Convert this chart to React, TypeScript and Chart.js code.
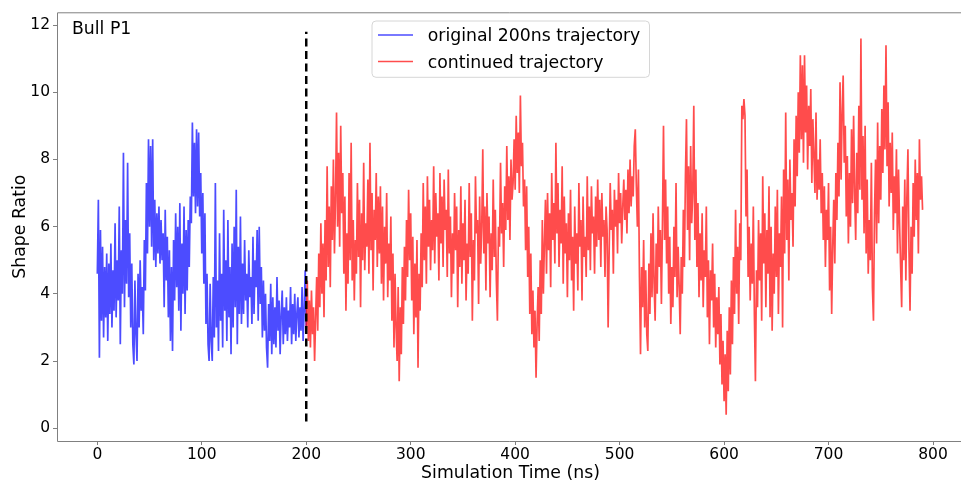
import React, { useEffect, useRef } from "react";
import { Chart, registerables } from "chart.js";

Chart.register(...registerables);

// ---------- data ----------
const blueStart = 0; // ns, one value per ns
const blueValues = [
  4.6, 6.8, 2.1, 5.9, 3.2, 5.4, 2.7, 4.8, 3.3, 5.2,
  2.6, 4.9, 3.4, 5.5, 3.0, 4.7, 3.5, 6.1, 3.3, 5.0,
  3.8, 6.6, 2.5, 5.3, 4.0, 8.2, 3.6, 6.2, 4.3, 7.9,
  3.9, 5.8, 3.0, 4.9, 2.5, 1.9, 4.4, 2.8, 2.0, 4.6,
  3.0, 5.0, 3.5, 4.2, 2.8, 5.6, 4.1, 7.3, 5.2, 8.6,
  6.0, 8.4, 5.4, 8.6, 5.0, 6.8, 4.8, 6.4, 5.2, 6.6,
  4.9, 6.2, 5.0, 5.8, 3.6, 6.5, 4.4, 5.7, 3.3, 5.3,
  2.6, 4.8, 2.3, 5.6, 3.8, 6.4, 4.2, 6.0, 3.5, 6.7,
  2.9, 5.5, 4.0, 6.6, 3.4, 5.9, 4.1, 6.2, 4.8, 6.9,
  6.1, 9.1, 6.9, 8.5, 6.4, 8.9, 6.6, 8.8, 6.3, 7.6,
  5.2, 7.0, 4.3, 6.4, 3.1, 4.6, 2.5, 2.0, 4.3, 2.6,
  2.0, 4.5, 2.7, 7.3, 3.0, 4.4, 2.3, 5.8, 3.2, 4.6,
  2.4, 6.5, 3.5, 5.0, 2.6, 6.2, 3.3, 4.8, 2.2, 5.5,
  3.0, 6.0, 3.6, 7.1, 2.5, 5.4, 3.4, 6.3, 3.1, 4.9,
  3.4, 5.6, 3.8, 4.6, 3.0, 5.3, 3.9, 4.5, 3.1, 5.7,
  3.4, 5.0, 4.2, 5.9, 3.2, 6.0, 3.7, 4.8, 2.7, 4.4,
  2.9, 4.0, 2.4, 1.8, 3.7, 2.6, 4.3, 2.2, 3.9, 2.5,
  3.6, 2.4, 4.5, 2.9, 3.8, 2.2, 3.4, 4.1, 2.5, 3.6,
  2.8, 3.9, 2.6, 3.5, 3.0, 4.2, 2.5, 3.7, 2.8, 4.0,
  2.6, 3.4, 3.9, 2.7, 3.6, 2.9, 4.2, 2.6, 3.5, 4.7,
  3.0,
];

const redStart = 200; // ns, one value per ns
const redValues = [
  3.0, 4.4, 2.6, 3.8, 2.4, 4.1, 2.8, 3.6, 2.0, 3.3,
  4.5, 2.9, 5.2, 3.6, 6.1, 4.0, 5.5, 3.3, 6.2, 4.4,
  7.8, 4.8, 6.6, 4.2, 7.2, 5.6, 8.0, 5.2, 6.8, 9.4,
  6.0, 8.2, 5.4, 9.0, 6.4, 7.6, 4.6, 6.9, 3.5, 5.8,
  4.3, 7.6, 5.0, 8.5, 4.4, 6.2, 3.8, 5.6, 4.6, 7.3,
  5.1, 6.8, 3.6, 6.4, 5.0, 7.9, 4.7, 6.1, 5.4, 7.4,
  4.6, 8.5, 5.3, 7.0, 4.1, 6.5, 5.6, 7.6, 4.8, 6.9,
  5.2, 7.2, 4.3, 6.6, 3.8, 6.0, 4.9, 7.0, 3.9, 5.5,
  4.4, 6.3, 3.2, 5.2, 2.4, 4.6, 3.0, 2.0, 4.2, 1.4,
  3.6, 2.2, 4.8, 3.1, 5.4, 3.8, 6.2, 4.5, 7.1, 5.0,
  6.4, 3.8, 5.7, 2.8, 4.9, 3.3, 5.6, 1.8, 4.6, 3.5,
  5.8, 4.2, 7.3, 5.0, 6.6, 4.3, 7.5, 5.4, 6.8, 4.7,
  6.2, 5.3, 7.8, 4.9, 7.0, 5.7, 6.4, 4.4, 7.6, 5.5,
  6.9, 4.8, 7.4, 5.9, 6.5, 4.5, 7.7, 5.2, 6.3, 3.9,
  5.8, 4.6, 7.0, 5.3, 6.6, 3.6, 5.9, 4.8, 7.2, 4.3,
  6.1, 5.0, 6.8, 3.8, 5.5, 4.6, 7.3, 5.1, 6.4, 3.2,
  5.6, 4.4, 7.5, 5.8, 6.2, 3.7, 6.9, 4.9, 6.0, 8.3,
  5.2, 6.6, 4.1, 7.0, 5.5, 6.3, 3.9, 5.8, 4.7, 7.4,
  5.1, 6.5, 4.4, 3.2, 6.0, 5.4, 7.9, 5.8, 6.7, 4.8,
  7.2, 5.9, 8.4, 6.2, 7.5, 5.6, 8.0, 6.8, 7.3, 8.6,
  7.1, 9.3, 7.6, 8.8, 7.0, 9.9, 7.8, 8.5, 6.6, 7.4,
  5.3, 7.2, 4.5, 6.0, 3.4, 5.2, 2.8, 4.1, 2.4, 3.5,
  1.5, 3.1, 4.2, 2.6, 5.0, 3.4, 6.2, 4.0, 5.5, 6.8,
  4.6, 7.0, 5.3, 6.4, 4.2, 7.6, 5.6, 6.7, 4.9, 8.5,
  5.8, 7.3, 4.8, 6.5, 5.5, 7.8, 4.3, 6.9, 5.2, 6.1,
  3.9, 6.4, 5.0, 7.1, 4.4, 5.7, 3.5, 6.6, 4.9, 5.8,
  4.1, 7.3, 5.4, 6.2, 3.8, 6.9, 5.1, 5.7, 4.5, 7.5,
  5.3, 6.6, 4.7, 7.2, 5.8, 6.3, 4.6, 6.9, 5.4, 7.4,
  5.6, 6.8, 4.8, 7.0, 5.7, 6.2, 4.5, 6.6, 5.9, 3.0,
  5.3, 7.3, 5.9, 6.5, 4.6, 7.1, 6.0, 6.8, 5.2, 7.6,
  6.1, 7.0, 5.5, 6.6, 7.4, 6.2, 7.1, 5.8, 7.7, 6.4,
  8.0, 6.6, 7.5, 6.9, 8.4, 8.9, 7.2, 6.0, 7.7, 4.5,
  2.2, 4.8, 3.6, 5.6, 3.0, 4.7, 2.8, 2.3, 4.9, 3.4,
  5.8, 3.9, 6.4, 4.3, 3.2, 5.5, 4.0, 6.6, 4.8, 5.9,
  3.7, 6.1, 9.0, 5.6, 7.4, 4.9, 6.6, 4.0, 5.7, 3.1,
  4.8, 3.6, 6.0, 4.5, 7.3, 3.9, 5.4, 4.2, 2.8, 5.1,
  4.0, 6.5, 4.8, 7.5, 9.2, 5.9, 7.8, 5.0, 8.4, 6.1,
  7.0, 9.6, 5.6, 7.7, 4.8, 6.7, 3.9, 5.8, 4.4, 6.4,
  3.6, 5.3, 4.5, 6.6, 3.3, 5.0, 2.5, 4.7, 3.8, 5.5,
  3.0, 4.6, 2.4, 3.9, 2.8, 4.2, 1.9, 3.4, 1.3, 2.6,
  0.8, 2.2, 0.4, 2.9, 1.1, 3.6, 1.6, 4.4, 2.5, 5.1,
  3.4, 6.5, 4.0, 5.4, 3.1, 6.1, 5.0, 9.6, 9.2, 9.8,
  9.3, 6.3, 7.7, 4.5, 6.0, 3.8, 5.5, 4.3, 6.6, 3.4,
  1.4, 4.7, 3.6, 6.2, 4.4, 5.8, 3.2, 7.5, 4.9, 6.4,
  3.6, 5.9, 4.6, 7.2, 3.3, 6.0, 2.9, 5.2, 4.0, 6.6,
  4.5, 7.1, 3.4, 5.8, 4.8, 6.9, 3.0, 7.7, 5.2, 9.4,
  5.6, 7.4, 4.4, 8.0, 6.2, 7.0, 5.4, 8.6, 6.6, 9.3,
  7.5, 10.0, 8.2, 11.1, 8.6, 10.8, 7.9, 11.1, 8.8, 10.2,
  7.7, 9.6, 8.4, 10.1, 7.3, 9.2, 8.1, 7.0, 9.4, 6.8,
  8.0, 7.1, 8.6, 6.4, 7.6, 5.6, 7.2, 4.8, 6.5, 5.6,
  7.3, 4.1, 6.0, 3.4, 5.4, 6.8, 4.9, 7.6, 6.2, 8.5,
  6.9, 10.3, 7.4, 9.4, 10.5, 7.9, 9.0, 6.3, 8.1, 5.5,
  7.6, 6.0, 8.9, 6.7, 9.3, 7.0, 5.6, 8.2, 6.4, 9.6,
  7.1, 11.6, 6.8, 8.7, 5.8, 9.0, 5.2, 7.4, 4.6, 6.2,
  5.0, 7.9, 4.2, 3.2, 6.4, 8.0, 5.5, 9.1, 6.1, 8.4,
  6.8, 9.5, 7.6, 10.2, 8.3, 11.4, 7.8, 9.7, 6.6, 8.5,
  7.0, 8.8, 5.9, 7.5, 6.4, 8.3, 5.2, 7.7, 6.1, 4.8,
  3.6, 6.6, 5.0, 7.4, 4.4, 6.9, 8.3, 5.3, 3.5, 6.0,
  4.6, 7.3, 5.7, 8.0, 6.2, 7.6, 5.2, 8.6, 6.8, 7.5,
  6.5,
];

const dividerX = 200;
const dividerYRange = [0.2, 11.8];
const xTicks = [0, 100, 200, 300, 400, 500, 600, 700, 800];
const yTicks = [0, 2, 4, 6, 8, 10, 12];
const xRange = [-38.6, 826.8];
const yRange = [-0.38, 12.38];
const legendLabels = ["original 200ns trajectory", "continued trajectory"];
const panelLabel = "Bull P1";
const xTitle = "Simulation Time (ns)";
const yTitle = "Shape Ratio";

const BLUE = "rgba(0,0,255,0.7)";
const RED = "rgba(255,0,0,0.7)";
const FONT = "'DejaVu Sans', 'Liberation Sans', sans-serif";
const SPINE = "#808080";

const decorPlugin = {
  id: "decor",
  afterDraw(chart: any) {
    const ctx = chart.ctx as CanvasRenderingContext2D;
    const a = chart.chartArea;
    ctx.save();
    // spines (left, top, bottom)
    ctx.strokeStyle = SPINE;
    ctx.lineWidth = 1;
    ctx.beginPath();
    ctx.moveTo(a.right + 5, a.top + 0.5);
    ctx.lineTo(a.left + 0.5, a.top + 0.5);
    ctx.lineTo(a.left + 0.5, a.bottom + 0.5);
    ctx.lineTo(a.right + 5, a.bottom + 0.5);
    ctx.stroke();

    // panel label
    ctx.fillStyle = "#000";
    ctx.font = `17.3px ${FONT}`;
    ctx.textAlign = "left";
    ctx.textBaseline = "alphabetic";
    ctx.fillText(panelLabel, 72, 34);

    // axis titles
    ctx.textAlign = "center";
    ctx.fillText(xTitle, (a.left + a.right + 3) / 2, 477.5);
    ctx.save();
    ctx.translate(25, (a.top + a.bottom) / 2);
    ctx.rotate(-Math.PI / 2);
    ctx.fillText(yTitle, 0, 0);
    ctx.restore();

    // legend
    const lx = 372, ly = 21, lw = 277.5, lh = 56.3, r = 4;
    ctx.beginPath();
    ctx.moveTo(lx + r, ly);
    ctx.arcTo(lx + lw, ly, lx + lw, ly + lh, r);
    ctx.arcTo(lx + lw, ly + lh, lx, ly + lh, r);
    ctx.arcTo(lx, ly + lh, lx, ly, r);
    ctx.arcTo(lx, ly, lx + lw, ly, r);
    ctx.closePath();
    ctx.fillStyle = "rgba(255,255,255,0.8)";
    ctx.fill();
    ctx.strokeStyle = "#d6d6d6";
    ctx.lineWidth = 1;
    ctx.stroke();

    const rows = [
      { c: BLUE, y: 35, t: legendLabels[0] },
      { c: RED, y: 61.5, t: legendLabels[1] },
    ];
    ctx.textAlign = "left";
    for (const row of rows) {
      ctx.strokeStyle = row.c;
      ctx.lineWidth = 1.5;
      ctx.beginPath();
      ctx.moveTo(378, row.y);
      ctx.lineTo(413, row.y);
      ctx.stroke();
      ctx.fillStyle = "#000";
      ctx.fillText(row.t, 427.7, row.y + 6.2);
    }
    ctx.restore();
  },
};

export default function App() {
  const ref = useRef<HTMLCanvasElement | null>(null);

  useEffect(() => {
    if (!ref.current) return;
    const blueData = blueValues.map((y, i) => ({ x: blueStart + i, y }));
    const redData = redValues.map((y, i) => ({ x: redStart + i, y }));
    const divData = dividerYRange.map((y) => ({ x: dividerX, y }));

    const tickFont = { family: FONT, size: 15.5 };
    const chart = new Chart(ref.current, {
      type: "line",
      data: {
        datasets: [
          {
            label: legendLabels[0],
            data: blueData,
            borderColor: BLUE,
            borderWidth: 1.7,
            borderJoinStyle: "miter",
            pointRadius: 0,
            tension: 0,
            fill: false,
            order: 2,
          },
          {
            label: legendLabels[1],
            data: redData,
            borderColor: RED,
            borderWidth: 1.7,
            borderJoinStyle: "miter",
            pointRadius: 0,
            tension: 0,
            fill: false,
            order: 1,
          },
          {
            label: "divider",
            data: divData,
            borderColor: "#000",
            borderWidth: 2.5,
            borderDash: [8, 4.5],
            pointRadius: 0,
            fill: false,
            order: 0,
          },
        ],
      },
      options: {
        animation: false,
        responsive: false,
        events: [],
        layout: { padding: { top: 12, right: 0, left: 0, bottom: 0 } },
        plugins: {
          legend: { display: false },
          tooltip: { enabled: false },
          title: { display: false },
        },
        scales: {
          x: {
            type: "linear",
            min: xRange[0],
            max: xRange[1],
            afterBuildTicks: (s: any) => {
              s.ticks = xTicks.map((v) => ({ value: v }));
            },
            afterFit: (s: any) => {
              s.height = 42;
            },
            grid: {
              display: true,
              drawOnChartArea: false,
              drawTicks: true,
              tickLength: 4,
              color: SPINE,
            },
            border: { display: false },
            ticks: {
              font: tickFont,
              color: "#000",
              padding: 1,
              maxRotation: 0,
              autoSkip: false,
            },
          },
          y: {
            type: "linear",
            min: yRange[0],
            max: yRange[1],
            afterBuildTicks: (s: any) => {
              s.ticks = yTicks.map((v) => ({ value: v }));
            },
            afterFit: (s: any) => {
              s.width = 57;
            },
            grid: {
              display: true,
              drawOnChartArea: false,
              drawTicks: true,
              tickLength: 4,
              color: SPINE,
            },
            border: { display: false },
            ticks: {
              font: tickFont,
              color: "#000",
              padding: 3,
              autoSkip: false,
            },
          },
        },
      },
      plugins: [decorPlugin],
    } as any);
    return () => chart.destroy();
  }, []);

  return (
    <div
      style={{
        position: "fixed",
        left: 0,
        top: 0,
        width: 961,
        height: 483,
        background: "#fff",
      }}
    >
      <canvas ref={ref} width={961} height={483} style={{ display: "block" }} />
    </div>
  );
}
